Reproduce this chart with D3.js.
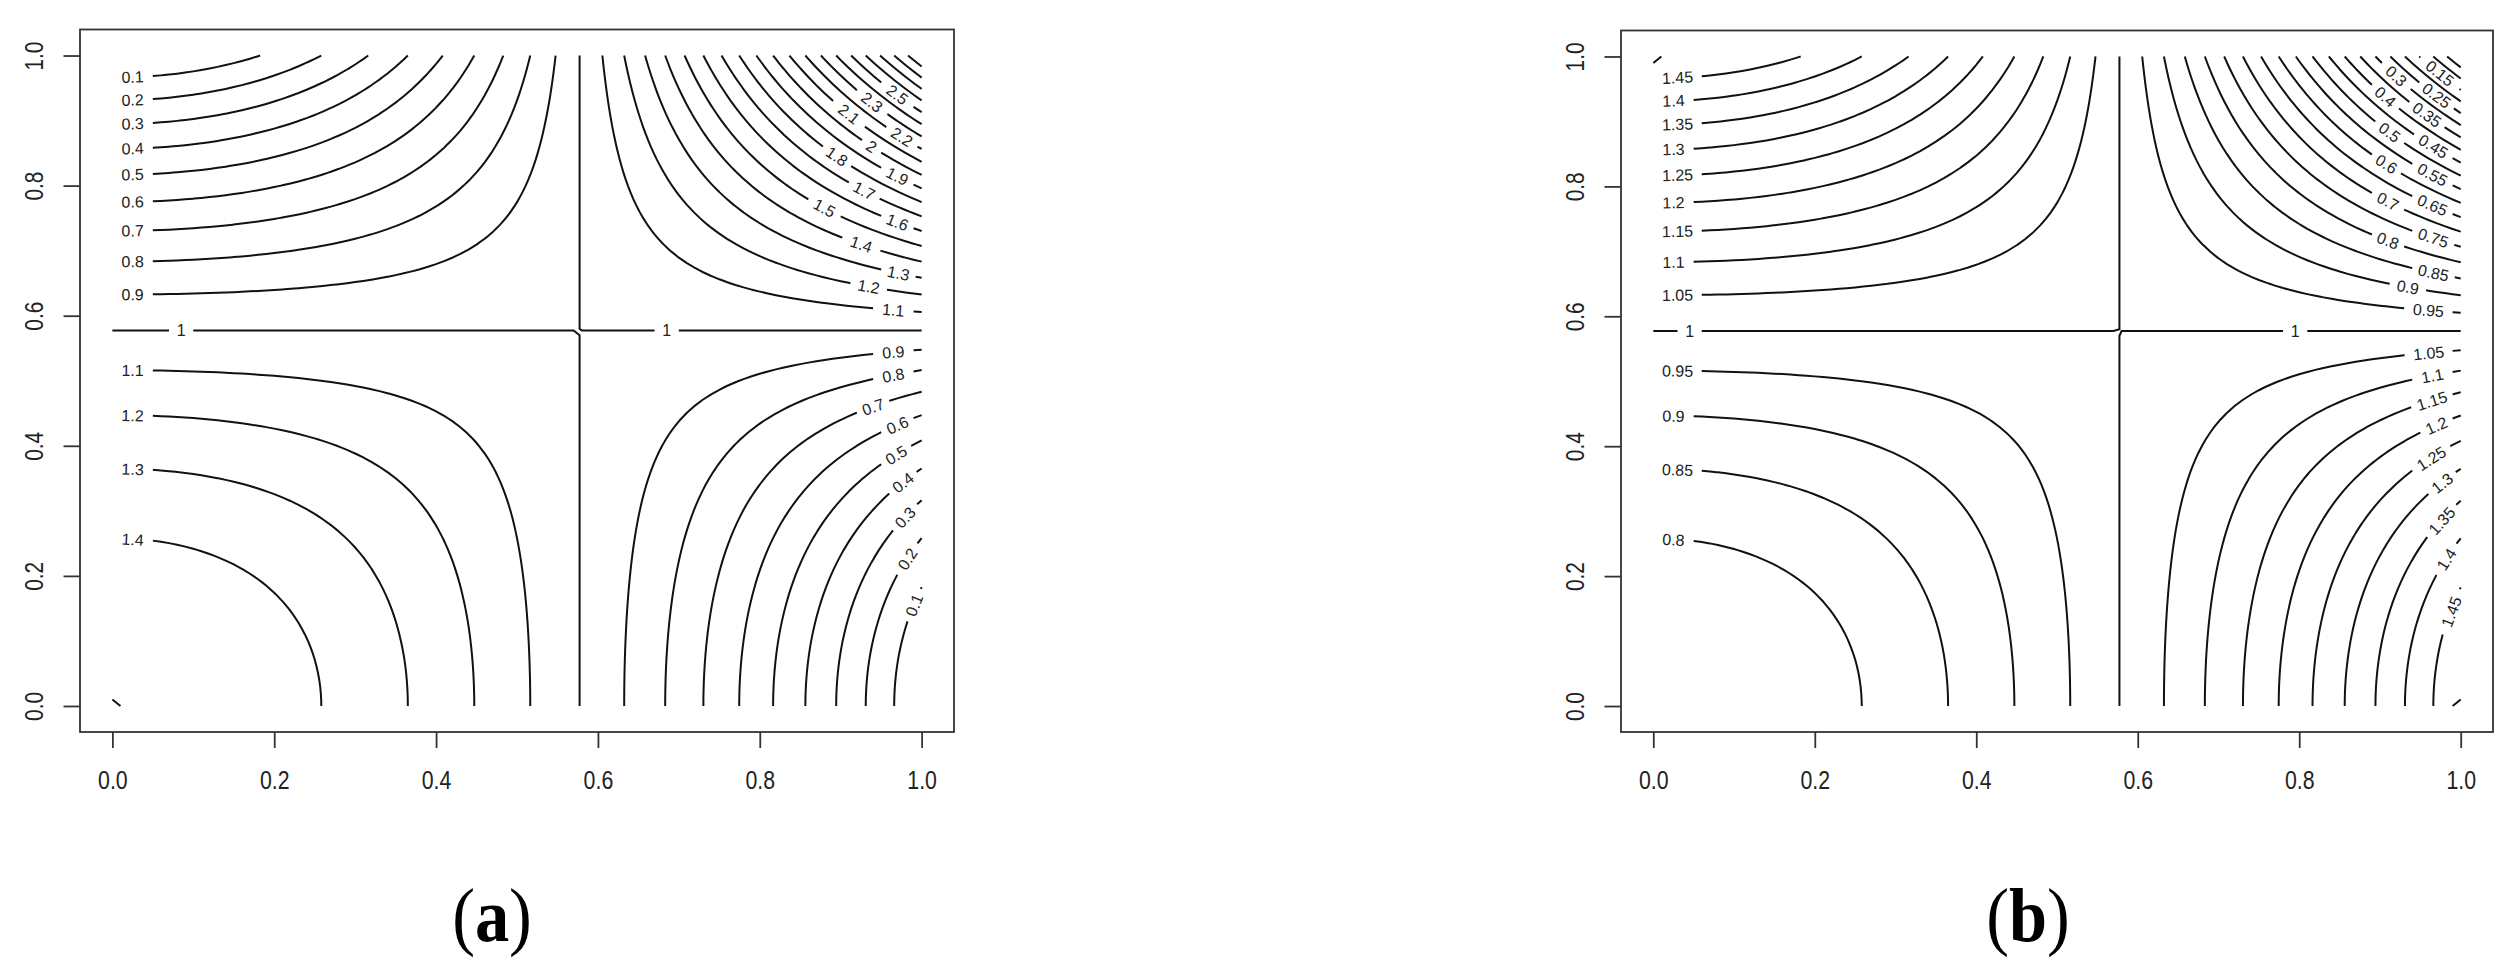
<!DOCTYPE html>
<html>
<head>
<meta charset="utf-8">
<title>Contour plots (a) and (b)</title>
<script src="https://cdn.jsdelivr.net/npm/d3@7"></script>
<style>
  body { margin: 0; background: #fff; }
  svg { display: block; }
  .tick-label { font-family: "Liberation Sans", Arial, sans-serif; font-size: 26px; fill: #222; }
  .clabel { font-family: "Liberation Sans", Arial, sans-serif; font-size: 16px; fill: #222; }
  .caption { font-family: "Liberation Serif", "Times New Roman", serif; font-size: 76px; fill: #000; }
</style>
</head>
<body>
<svg id="chart" width="2518" height="976"></svg>
<script>
// sampling grid over the unit square (101 x 101 points)
var gridSize = 101;

// axis ticks (same on both axes, both panels)
var tickValues = [0.0, 0.2, 0.4, 0.6, 0.8, 1.0];
var tickLabels = ["0.0", "0.2", "0.4", "0.6", "0.8", "1.0"];

// contour levels drawn in panel (a)
var levelsA = [0.1, 0.2, 0.3, 0.4, 0.5, 0.6, 0.7, 0.8, 0.9, 1, 1.1, 1.2, 1.3, 1.4, 1.5,
               1.6, 1.7, 1.8, 1.9, 2, 2.1, 2.2, 2.3, 2.4, 2.5, 2.6, 2.7, 2.8, 2.9];

// contour levels drawn in panel (b)
var levelsB = [0.05, 0.1, 0.15, 0.2, 0.25, 0.3, 0.35, 0.4, 0.45, 0.5, 0.55, 0.6, 0.65, 0.7, 0.75,
               0.8, 0.85, 0.9, 0.95, 1, 1.05, 1.1, 1.15, 1.2, 1.25, 1.3, 1.35, 1.4, 1.45, 1.5];

// surfaces: z = base + amp * (3x^2 - 1) * (3y^2 - 1)
var baseA = 1, ampA = 0.5;
var baseB = 1, ampB = -0.25;

var captions = ["a", "b"];

// layout of the two panels
var panels = [
  {levels: levelsA, base: baseA, amp: ampA, caption: captions[0],
   left: 80, right: 954, top: 29.5, bottom: 732, capX: 492},
  {levels: levelsB, base: baseB, amp: ampB, caption: captions[1],
   left: 1621, right: 2493, top: 30.5, bottom: 732, capX: 2028}
];

var svg = d3.select("#chart");

function measure(str) {
  var t = svg.append("text").attr("class", "clabel").text(str);
  var w = t.node().getComputedTextLength();
  t.remove();
  return w;
}

// open iso-lines from d3.contours rings (drop the parts running along the grid border)
function isoLines(values, level) {
  var n = gridSize, step = 1 / (n - 1);
  var mp = d3.contours().size([n, n]).thresholds([level])(values)[0];
  var lines = [];
  function toData(p) { return [(p[0] - 0.5) * step, (p[1] - 0.5) * step]; }
  function push(run) {
    var clean = [];
    run.forEach(function (p) {
      var q = clean[clean.length - 1];
      if (!q || Math.abs(q[0] - p[0]) > 1e-12 || Math.abs(q[1] - p[1]) > 1e-12) clean.push(p);
    });
    if (clean.length < 2) return;
    if (clean[0][0] > clean[clean.length - 1][0]) clean.reverse();
    lines.push(clean);
  }
  mp.coordinates.forEach(function (poly) {
    poly.forEach(function (ring) {
      var pts = ring.slice(0, -1);
      var edge = pts.map(function (p) { return p[0] === 0 || p[0] === n || p[1] === 0 || p[1] === n; });
      var start = edge.indexOf(true);
      if (start < 0) { push(ring.map(toData)); return; }
      var run = [];
      for (var k = 1; k <= pts.length; k++) {
        var idx = (start + k) % pts.length;
        if (edge[idx]) { push(run); run = []; }
        else run.push(toData(pts[idx]));
      }
      push(run);
    });
  });
  lines.sort(function (a, b) { return a[0][0] - b[0][0] || a[0][1] - b[0][1]; });
  return lines;
}

function cross(a, b, c) { return (b[0] - a[0]) * (c[1] - a[1]) - (b[1] - a[1]) * (c[0] - a[0]); }
function segCross(p1, p2, p3, p4) {
  return ((cross(p3, p4, p1) > 0) !== (cross(p3, p4, p2) > 0)) &&
         ((cross(p1, p2, p3) > 0) !== (cross(p1, p2, p4) > 0));
}
function boxesCross(a, b) {
  for (var i = 0; i < 4; i++)
    for (var j = 0; j < 4; j++)
      if (segCross(a[i], a[(i + 1) % 4], b[j], b[(j + 1) % 4])) return true;
  return false;
}
function corners(p0, p1, w, h) {
  var ox = -(p1[1] - p0[1]) * h / w, oy = (p1[0] - p0[0]) * h / w;
  return [[p0[0] + ox, p0[1] + oy], [p0[0] - ox, p0[1] - oy],
          [p1[0] - ox, p1[1] - oy], [p1[0] + ox, p1[1] + oy]];
}

// label on the flattest stretch of the line that does not hit an earlier label
function placeLabel(pix, dat, labW, labH, placed) {
  var ns = pix.length, best = Infinity, indx = -1, range = 0;
  for (var i = 0; i < ns; i++) {
    var dist = 0, sum = 0, sq = 0, n = 0, j = i + 1;
    while (j < ns - 1 && dist < labW) {
      dist = Math.hypot(pix[j][0] - pix[i][0], pix[j][1] - pix[i][1]);
      var ddx = dat[j][0] - dat[j - 1][0], ddy = dat[j][1] - dat[j - 1][1];
      if (ddx === 0) ddx = 1;
      sum += ddy / ddx;
      sq += sum * sum;
      j++; n++;
    }
    if (dist < labW) break;
    var box = corners(pix[i], pix[i + n], labW, labH);
    if (placed.some(function (b) { return boxesCross(b, box); })) continue;
    var v = (sq - sum * sum / n) / n;
    if (v < best) { best = v; indx = i; range = n; }
  }
  if (indx < 0) return null;
  placed.push(corners(pix[indx], pix[indx + range], labW, labH));
  return {i: indx, n: range};
}

function drawPanel(p) {
  var n = gridSize;
  var x = d3.scaleLinear().domain([-0.04, 1.04]).range([p.left, p.right]);
  var y = d3.scaleLinear().domain([-0.04, 1.04]).range([p.bottom, p.top]);
  var g = svg.append("g");

  var values = new Array(n * n);
  for (var j = 0; j < n; j++) {
    for (var i = 0; i < n; i++) {
      var xv = i / (n - 1), yv = j / (n - 1);
      values[j * n + i] = p.base + p.amp * (3 * xv * xv - 1) * (3 * yv * yv - 1);
    }
  }

  var line = d3.line().x(function (d) { return x(d[0]); }).y(function (d) { return y(d[1]); });
  var lineG = g.append("g").attr("fill", "none").attr("stroke", "#111").attr("stroke-width", 2);
  var labG = g.append("g");
  var placed = [];

  p.levels.forEach(function (level) {
    var txt = String(level);
    var labW = measure(txt) + 12, labH = 8.5;
    isoLines(values, level).forEach(function (dat) {
      var pix = dat.map(function (d) { return [x(d[0]), y(d[1])]; });
      var lab = placeLabel(pix, dat, labW, labH, placed);
      if (!lab) { lineG.append("path").attr("d", line(dat)); return; }
      lineG.append("path").attr("d", line(dat.slice(0, lab.i + 1)));
      lineG.append("path").attr("d", line(dat.slice(lab.i + lab.n)));
      var a = pix[lab.i], b = pix[lab.i + lab.n];
      var ang = Math.atan2(b[1] - a[1], b[0] - a[0]) * 180 / Math.PI;
      if (ang > 90) ang -= 180;
      if (ang < -90) ang += 180;
      labG.append("text").attr("class", "clabel")
        .attr("text-anchor", "middle").attr("dy", "0.36em")
        .attr("transform", "translate(" + (a[0] + b[0]) / 2 + "," + (a[1] + b[1]) / 2 + ") rotate(" + ang + ")")
        .text(txt);
    });

    // a level that only touches a grid point (local maximum) leaves a tiny mark
    for (var jj = 0; jj < n; jj++) {
      for (var ii = 0; ii < n; ii++) {
        var v = values[jj * n + ii];
        if (Math.abs(v - level) > 1e-12) continue;
        var nb = [[ii - 1, jj], [ii + 1, jj], [ii, jj - 1], [ii, jj + 1]].filter(function (q) {
          return q[0] >= 0 && q[0] < n && q[1] >= 0 && q[1] < n;
        });
        if (!nb.every(function (q) { return values[q[1] * n + q[0]] < level; })) continue;
        var px = ii / (n - 1), py = jj / (n - 1), s = 1 / (n - 1);
        var sx = px < 0.5 ? s : -s, sy = py < 0.5 ? s : -s;
        lineG.append("path").attr("d", line([[px, py + sy], [px + sx, py]]));
      }
    }
  });

  // axes
  var xAxis = g.append("g").attr("transform", "translate(0," + p.bottom + ")")
    .call(d3.axisBottom(x).tickValues(tickValues).tickSize(16)
      .tickFormat(function (d, i) { return tickLabels[i]; }));
  var yAxis = g.append("g").attr("transform", "translate(" + p.left + ",0)")
    .call(d3.axisLeft(y).tickValues(tickValues).tickSize(16.5)
      .tickFormat(function (d, i) { return tickLabels[i]; }));
  [xAxis, yAxis].forEach(function (ax) {
    ax.select(".domain").remove();
    ax.selectAll(".tick line").attr("stroke", "#333").attr("stroke-width", 1.8);
    ax.selectAll("text").attr("class", "tick-label").attr("fill", "#222")
      .attr("font-size", null).attr("font-family", null);
  });
  xAxis.selectAll("text").attr("y", 57.3).attr("dy", null)
    .attr("transform", "scale(0.82,1)");
  yAxis.selectAll("text").attr("x", null).attr("dy", null).attr("y", 0)
    .attr("text-anchor", "middle")
    .attr("transform", "translate(-36.7,0) rotate(-90) scale(0.8,1)");

  // plot box
  g.append("rect").attr("x", p.left).attr("y", p.top)
    .attr("width", p.right - p.left).attr("height", p.bottom - p.top)
    .attr("fill", "none").attr("stroke", "#333").attr("stroke-width", 1.8);

  // caption
  var cap = svg.append("text").attr("class", "caption").attr("text-anchor", "middle")
    .attr("transform", "translate(" + p.capX + ",941) scale(0.9,1)");
  cap.append("tspan").text("(");
  cap.append("tspan").attr("font-weight", "bold").text(p.caption);
  cap.append("tspan").text(")");
}

panels.forEach(drawPanel);
</script>
</body>
</html>
